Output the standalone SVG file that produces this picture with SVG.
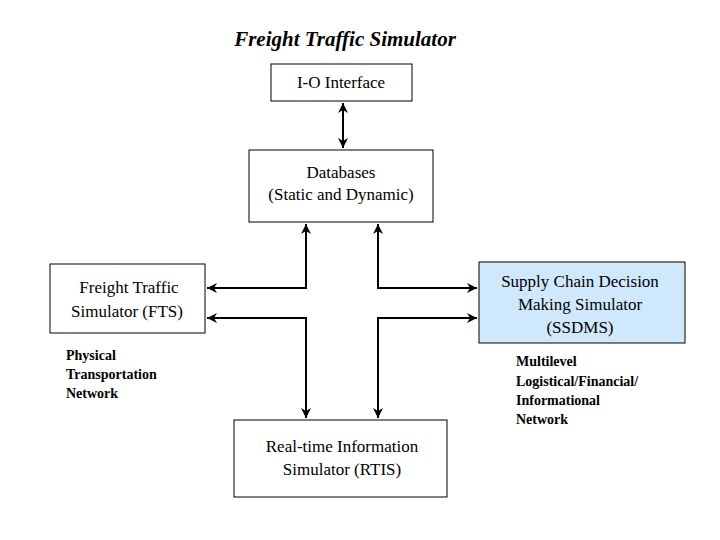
<svg xmlns="http://www.w3.org/2000/svg" width="720" height="540" viewBox="0 0 720 540">
<defs>
<marker id="a" viewBox="0 0 10 10" refX="10" refY="5" markerWidth="10" markerHeight="10" markerUnits="userSpaceOnUse" orient="auto-start-reverse"><path d="M0,0 L10,5 L0,10 L3,5 Z" fill="#000"/></marker>
<style>
rect{fill:#fff;stroke:#000;stroke-width:1}
.t{font-family:"Liberation Serif",serif;font-size:17px;text-anchor:middle}
.s{font-family:"Liberation Serif",serif;font-size:14px;font-weight:bold}
.c{fill:none;stroke:#000;stroke-width:2;marker-start:url(#a);marker-end:url(#a)}
</style>
</defs>
<text x="345" y="46" class="t" style="font-size:21px;font-weight:bold;font-style:italic">Freight Traffic Simulator</text>
<g id="io"><rect x="271" y="64" width="141" height="37"/><text x="341" y="88" class="t">I-O Interface</text></g>
<g id="db"><rect x="249" y="150" width="184" height="72"/><text x="341" y="178" class="t">Databases</text><text x="341" y="200" class="t">(Static and Dynamic)</text></g>
<g id="fts"><rect x="50" y="264" width="155" height="69"/><text x="129" y="293" class="t">Freight Traffic</text><text x="127" y="317" class="t">Simulator (FTS)</text></g>
<g id="ssdms"><rect x="479" y="262" width="206" height="81" style="fill:#cfe8fc"/><text x="580" y="287" class="t">Supply Chain Decision</text><text x="580" y="310" class="t">Making Simulator</text><text x="580" y="333" class="t">(SSDMS)</text></g>
<g id="rtis"><rect x="234" y="420" width="213" height="77"/><text x="342" y="452" class="t">Real-time Information</text><text x="342" y="475" class="t">Simulator (RTIS)</text></g>
<g id="labels">
<text x="66" y="360" class="s">Physical</text><text x="66" y="379" class="s">Transportation</text><text x="66" y="398" class="s">Network</text>
<text x="516" y="366" class="s">Multilevel</text><text x="516" y="386" class="s">Logistical/Financial/</text><text x="516" y="405" class="s">Informational</text><text x="516" y="424" class="s">Network</text>
</g>
<g id="connectors">
<path class="c" d="M343,103 V148"/>
<path class="c" d="M306,224 V288 H207"/>
<path class="c" d="M378,224 V288 H477"/>
<path class="c" d="M306,418 V318 H207"/>
<path class="c" d="M378,418 V318 H477"/>
</g>
</svg>
